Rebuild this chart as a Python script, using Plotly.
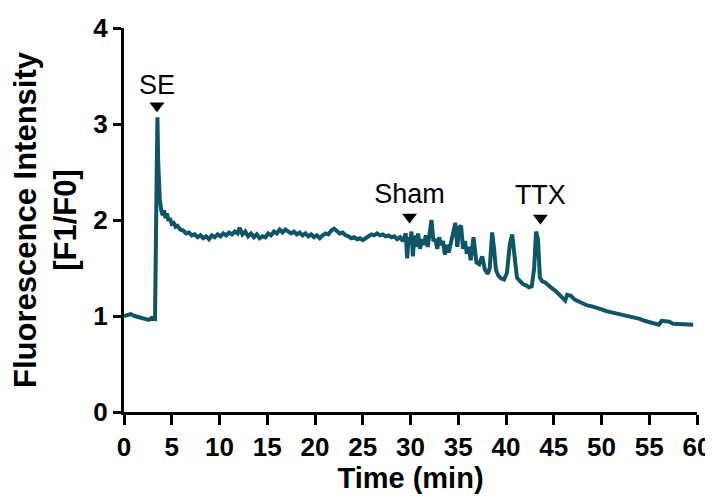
import plotly.graph_objects as go

time_min = [0, 0.3, 0.7, 1.1, 1.5, 1.9, 2.3, 2.6, 2.9, 3.25, 3.4, 3.5, 3.58, 3.65, 3.75, 3.9,
            4.05, 4.2, 4.35, 4.5, 4.65, 4.8, 5.0, 5.2, 5.4, 5.6, 5.9, 6.2, 6.5, 6.8, 7.1, 7.4,
            7.7, 8.0, 8.3, 8.6, 8.9, 9.2, 9.5, 9.8, 10.1, 10.4, 10.7, 11.0, 11.3, 11.6, 11.9,
            12.1, 12.4, 12.7, 13.0, 13.3, 13.6, 13.9, 14.2, 14.5, 14.8, 15.1, 15.4, 15.7, 16.0,
            16.3, 16.6, 16.9, 17.2, 17.5, 17.8, 18.1, 18.4, 18.7, 19.0, 19.3, 19.6, 19.9, 20.2,
            20.5, 20.8, 21.1, 21.4, 21.7, 22.0, 22.3, 22.6, 22.9, 23.2, 23.5, 23.8, 24.1, 24.4,
            24.7, 25.0, 25.3, 25.6, 25.9, 26.2, 26.5, 26.8, 27.1, 27.4, 27.7, 28.0, 28.3, 28.6,
            28.9, 29.2, 29.5, 29.65, 29.8, 29.95, 30.1, 30.25, 30.4, 30.6, 30.8, 31.0, 31.2,
            31.4, 31.6, 31.8, 32.0, 32.2, 32.4, 32.6, 32.8, 33.0, 33.2, 33.4, 33.6, 33.8, 34.0,
            34.2, 34.5, 34.7, 34.9, 35.1, 35.3, 35.5, 35.7, 35.9, 36.1, 36.3, 36.6, 36.9, 37.2,
            37.5, 37.8, 38.1, 38.3, 38.55, 38.75, 38.95, 39.2, 39.5, 39.8, 40.1, 40.4, 40.65,
            40.9, 41.15, 41.5, 41.8, 42.1, 42.4, 42.7, 42.95, 43.15, 43.35, 43.55, 43.8, 44.1,
            44.4, 44.8, 45.2, 45.6, 46.0, 46.2, 46.4, 46.8, 47.2, 47.6, 48.0, 48.5, 49.0, 49.5,
            50.0, 50.5, 51.0, 51.5, 52.0, 52.5, 53.0, 53.5, 54.0, 54.5, 55.0, 55.5, 56.0, 56.3,
            56.7, 57.1, 57.5, 58.0, 58.5, 59.0, 59.6]

intensity = [1.00, 1.01, 1.02, 1.00, 0.99, 0.98, 0.97, 0.96, 0.98, 0.97, 2.30, 3.07, 2.60, 2.35,
             2.22, 2.10, 2.05, 2.10, 2.02, 2.07, 1.99, 2.02, 1.96, 1.97, 1.93, 1.94, 1.90, 1.89,
             1.86, 1.87, 1.84, 1.85, 1.82, 1.84, 1.81, 1.83, 1.80, 1.84, 1.82, 1.85, 1.83, 1.86,
             1.84, 1.87, 1.85, 1.88, 1.86, 1.92, 1.85, 1.88, 1.83, 1.86, 1.82, 1.85, 1.81, 1.83,
             1.82, 1.86, 1.84, 1.88, 1.86, 1.90, 1.87, 1.90, 1.88, 1.86, 1.88, 1.85, 1.87, 1.84,
             1.86, 1.83, 1.85, 1.82, 1.84, 1.81, 1.84, 1.86, 1.85, 1.89, 1.91, 1.89, 1.86, 1.87,
             1.84, 1.83, 1.81, 1.82, 1.80, 1.81, 1.79, 1.81, 1.83, 1.85, 1.84, 1.86, 1.84, 1.85,
             1.83, 1.84, 1.82, 1.83, 1.80, 1.82, 1.78, 1.86, 1.60, 1.82, 1.75, 1.88, 1.62, 1.84,
             1.72, 1.86, 1.70, 1.80, 1.74, 1.84, 1.72, 1.90, 2.00, 1.78, 1.80, 1.70, 1.82, 1.74,
             1.78, 1.64, 1.74, 1.66, 1.76, 1.90, 1.97, 1.72, 1.92, 1.94, 1.70, 1.78, 1.65, 1.72,
             1.58, 1.82, 1.56, 1.54, 1.62, 1.48, 1.44, 1.50, 1.87, 1.70, 1.48, 1.42, 1.39, 1.38,
             1.45, 1.75, 1.85, 1.62, 1.40, 1.36, 1.33, 1.32, 1.30, 1.31, 1.50, 1.88, 1.80, 1.40,
             1.36, 1.35, 1.32, 1.29, 1.26, 1.22, 1.19, 1.16, 1.22, 1.21, 1.17, 1.15, 1.13, 1.11,
             1.10, 1.09, 1.07, 1.05, 1.04, 1.02, 1.01, 1.00, 0.99, 0.98, 0.97, 0.95, 0.94, 0.93,
             0.91, 0.95, 0.95, 0.94, 0.92, 0.92, 0.92, 0.91, 0.91]

event_labels = ["SE", "Sham", "TTX"]
event_time = [3.45, 29.9, 43.6]
event_marker_y = [3.19, 2.03, 2.02]
event_text_y = [3.38, 2.25, 2.24]

x_ticks = [0, 5, 10, 15, 20, 25, 30, 35, 40, 45, 50, 55, 60]
y_ticks = [0, 1, 2, 3, 4]

line_color = "#0e5566"
font_family = "Liberation Sans, Arial, sans-serif"

fig = go.Figure()
fig.add_trace(go.Scatter(x=time_min, y=intensity, mode="lines",
                         line=dict(color=line_color, width=4), showlegend=False,
                         hoverinfo="skip"))
fig.add_trace(go.Scatter(x=event_time, y=event_marker_y, mode="markers",
                         marker=dict(symbol="triangle-down", size=13, color="black"),
                         showlegend=False, hoverinfo="skip", cliponaxis=False))
fig.add_trace(go.Scatter(x=event_time, y=event_text_y, mode="text", text=event_labels,
                         textposition="middle center",
                         textfont=dict(family=font_family, size=27, color="black"),
                         showlegend=False, hoverinfo="skip", cliponaxis=False))

axis_common = dict(showline=True, linecolor="black", linewidth=3, ticks="outside",
                   tickcolor="black", tickwidth=3, showgrid=False, zeroline=False,
                   automargin=False,
                   tickfont=dict(family=font_family, size=26, color="black", weight="bold"))

fig.update_xaxes(range=[0, 60], tickvals=x_ticks, ticktext=[str(v) for v in x_ticks],
                 ticklen=10,
                 title=dict(text="Time (min)", standoff=4,
                            font=dict(family=font_family, size=29, color="black", weight="bold")),
                 **axis_common)
fig.update_yaxes(range=[0, 4], tickvals=y_ticks, ticktext=[str(v) for v in y_ticks],
                 ticklen=8,
                 title=dict(text="Fluorescence Intensity<br>[F1/F0]", standoff=8,
                            font=dict(family=font_family, size=31, color="black", weight="bold")),
                 **axis_common)

# page body has an 8px margin, so the figure is 8px smaller and shifted
fig.update_layout(width=705, height=490, paper_bgcolor="white", plot_bgcolor="white",
                  margin=dict(l=116, r=16, t=20, b=86))

fig.write_html("out.html")
